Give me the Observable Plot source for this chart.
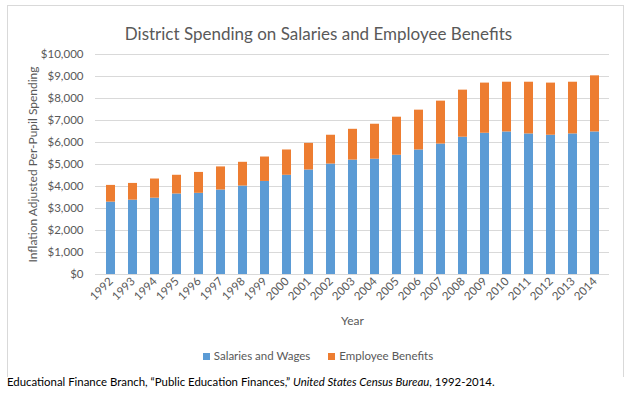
<!DOCTYPE html>
<html><head><meta charset="utf-8">
<script src="https://cdn.jsdelivr.net/npm/d3@7"></script>
<script src="https://cdn.jsdelivr.net/npm/@observablehq/plot@0.6"></script>
<style>
body{margin:0;background:#fff;font-family:Lato,sans-serif;}
#wrap{position:relative;width:633px;height:395px;overflow:hidden;}
#frame{position:absolute;left:7px;top:5px;width:617px;height:372px;border:1px solid #d9d9d9;border-bottom:none;box-sizing:border-box;}
#chart{position:absolute;left:0;top:0;}
#legend{position:absolute;top:349px;left:0;width:633px;display:flex;justify-content:center;gap:18px;font-size:11.5px;color:#595959;padding-left:3px;box-sizing:border-box;}
#legend span.sw{display:inline-block;width:7px;height:7px;margin-right:4px;vertical-align:0px;}
#caption{position:absolute;left:7px;top:375px;font-size:11.4px;color:#000;white-space:nowrap;}
</style>
</head><body>
<div id="wrap">
<div id="frame"></div>
<div id="chart"></div>
<div id="legend"></div>
<div id="caption">Educational Finance Branch, “Public Education Finances,” <i>United States Census Bureau</i>, 1992-2014.</div>
</div>
<script>
const title = "District Spending on Salaries and Employee Benefits";
const yTitle = "Inflation Adjusted Per-Pupil Spending";
const xTitle = "Year";
const series = ["Salaries and Wages", "Employee Benefits"];
const colors = ["#5B9BD5", "#ED7D31"];
const years = ["1992","1993","1994","1995","1996","1997","1998","1999","2000","2001","2002","2003","2004","2005","2006","2007","2008","2009","2010","2011","2012","2013","2014"];
const salaries = [3290,3380,3470,3660,3690,3840,4020,4230,4510,4750,5020,5200,5240,5420,5660,5930,6240,6420,6480,6390,6330,6390,6480];
const benefits = [760,760,870,850,950,1050,1080,1110,1150,1210,1310,1400,1590,1730,1810,1950,2140,2280,2260,2350,2370,2350,2550];
const yTicks = [0,1000,2000,3000,4000,5000,6000,7000,8000,9000,10000];

const rows = [];
years.forEach((yr, i) => {
  rows.push({year: yr, series: series[0], value: salaries[i]});
  rows.push({year: yr, series: series[1], value: benefits[i]});
});

const fmt = d => "$" + d3.format(",")(d);

const chart = Plot.plot({
  width: 633, height: 380,
  marginLeft: 95, marginRight: 24, marginTop: 54, marginBottom: 106,
  style: {fontFamily: "Lato, sans-serif", fontSize: "11px", color: "#595959", background: "transparent"},
  x: {domain: years, paddingInner: 0.6, paddingOuter: 0.3, label: null},
  y: {domain: [0, 10000], label: null},
  color: {domain: series, range: colors},
  marks: [
    Plot.gridY(yTicks, {stroke: "#d9d9d9", strokeOpacity: 1}),
    Plot.barY(rows, Plot.stackY({x: "year", y: "value", fill: "series", order: series})),
    Plot.axisY(yTicks, {tickSize: 0, tickPadding: 12, tickFormat: fmt, fontSize: 11.5, fill: "#595959"}),
    Plot.axisX({tickRotate: -45, tickSize: 0, tickPadding: 5, fontSize: 11.5, fill: "#595959"}),
    Plot.text([yTitle], {frameAnchor: "left", textAnchor: "middle", dx: -62, rotate: -90, fontSize: 12, fill: "#595959"}),
    Plot.text([xTitle], {frameAnchor: "bottom", dy: 50, fontSize: 12, fill: "#595959"}),
    Plot.text([title], {frameAnchor: "top", dx: -34, dy: -27, fontSize: 17, fill: "#595959"})
  ]
});
document.getElementById("chart").appendChild(chart);

const leg = document.getElementById("legend");
series.forEach((s, i) => {
  const it = document.createElement("div");
  it.innerHTML = `<span class="sw" style="background:${colors[i]}"></span>${s}`;
  leg.appendChild(it);
});
</script>
</body></html>
